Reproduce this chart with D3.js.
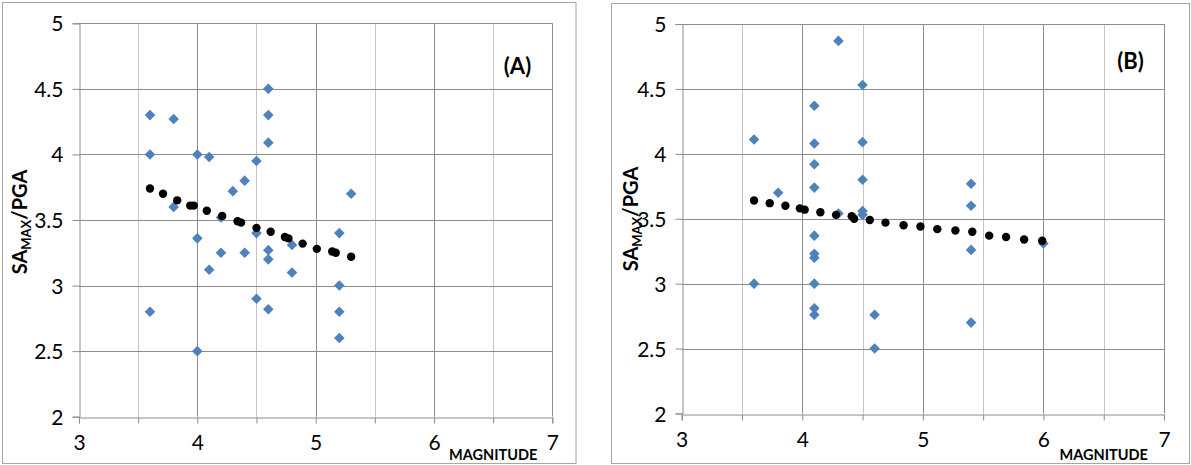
<!DOCTYPE html>
<html>
<head>
<meta charset="utf-8">
<script src="https://cdn.jsdelivr.net/npm/d3@7"></script>
<style>
  body { margin: 0; background: #fff; }
  svg { display: block; font-family: Lato, "Open Sans", sans-serif; }
</style>
</head>
<body>
<div id="container"></div>
<script>
// axis ticks (shared by both panels)
const xTicks = [3, 4, 5, 6, 7];
const yTicks = [2, 2.5, 3, 3.5, 4, 4.5, 5];

// panel A: observed points
const aMag   = [3.6, 3.6, 3.6, 3.8, 3.8, 4.0, 4.0, 4.0, 4.1, 4.1, 4.2, 4.2, 4.3, 4.4, 4.4, 4.5, 4.5, 4.5, 4.6, 4.6, 4.6, 4.6, 4.6, 4.6, 4.8, 4.8, 5.2, 5.2, 5.2, 5.2, 5.3];
const aRatio = [4.3, 4.0, 2.8, 4.27, 3.6, 4.0, 3.36, 2.5, 3.98, 3.12, 3.52, 3.25, 3.72, 3.8, 3.25, 3.95, 3.4, 2.9, 4.5, 4.3, 4.09, 3.27, 3.2, 2.82, 3.31, 3.1, 3.4, 3.0, 2.8, 2.6, 3.7];
// panel A: trend
const aTrendMag   = [3.6, 3.71, 3.83, 3.94, 3.97, 4.08, 4.21, 4.34, 4.37, 4.5, 4.62, 4.74, 4.77, 4.89, 5.01, 5.14, 5.17, 5.3];
const aTrendRatio = [3.74, 3.70, 3.65, 3.61, 3.61, 3.57, 3.53, 3.49, 3.48, 3.44, 3.41, 3.37, 3.36, 3.32, 3.28, 3.26, 3.25, 3.22];

// panel B: observed points
const bMag   = [3.6, 3.6, 3.8, 4.1, 4.1, 4.1, 4.1, 4.1, 4.1, 4.1, 4.1, 4.1, 4.1, 4.3, 4.3, 4.5, 4.5, 4.5, 4.5, 4.5, 4.6, 4.6, 5.4, 5.4, 5.4, 5.4, 6.0];
const bRatio = [4.11, 3.0, 3.7, 4.37, 4.08, 3.92, 3.74, 3.37, 3.23, 3.2, 3.0, 2.81, 2.76, 4.87, 3.54, 4.53, 4.09, 3.8, 3.56, 3.53, 2.76, 2.5, 3.77, 3.6, 3.26, 2.7, 3.31];
// panel B: trend
const bTrendMag   = [3.6, 3.73, 3.86, 3.98, 4.02, 4.15, 4.28, 4.41, 4.43, 4.56, 4.69, 4.84, 4.98, 5.12, 5.27, 5.41, 5.55, 5.69, 5.84, 5.99];
const bTrendRatio = [3.64, 3.62, 3.60, 3.58, 3.57, 3.55, 3.53, 3.52, 3.50, 3.49, 3.47, 3.45, 3.44, 3.42, 3.41, 3.40, 3.37, 3.36, 3.34, 3.33];

const panels = [
  { label: "(A)", mag: aMag, ratio: aRatio, tMag: aTrendMag, tRatio: aTrendRatio,
    box: [2, 2, 575.5, 463], plot: [79, 23.3, 552.3, 416.7],
    yLabelX: 27, yLabelY: 222, tagX: 517.5, tagY: 74 },
  { label: "(B)", mag: bMag, ratio: bRatio, tMag: bTrendMag, tRatio: bTrendRatio,
    box: [611, 3, 1189, 463], plot: [681.7, 24, 1164, 413.5],
    yLabelX: 638, yLabelY: 219, tagX: 1130.5, tagY: 69 }
];

const svg = d3.select("#container").append("svg")
    .attr("width", 1191)
    .attr("height", 465);

panels.forEach(p => drawPanel(p));

function drawPanel(p) {
  const [bx0, by0, bx1, by1] = p.box;
  const [px0, py0, px1, py1] = p.plot;

  svg.append("rect")
      .attr("x", bx0 + 0.5).attr("y", by0 + 0.5)
      .attr("width", bx1 - bx0).attr("height", by1 - by0)
      .attr("fill", "#fff")
      .attr("stroke", "#a6a6a6");

  const x = d3.scaleLinear().domain([3, 7]).range([px0, px1]);
  const y = d3.scaleLinear().domain([2, 5]).range([py1, py0]);

  const g = svg.append("g");

  // vertical grid every 0.5, integers darker
  const xGrid = d3.range(3.5, 7.01, 0.5);
  g.selectAll(".vgrid").data(xGrid).enter().append("line")
      .attr("x1", d => Math.round(x(d)) + 0.5).attr("x2", d => Math.round(x(d)) + 0.5)
      .attr("y1", py0).attr("y2", py1)
      .attr("stroke", d => Number.isInteger(d) ? "#8c8c8c" : "#c4c4c4");

  // horizontal grid
  g.selectAll(".hgrid").data(yTicks.slice(1)).enter().append("line")
      .attr("x1", px0).attr("x2", px1)
      .attr("y1", d => Math.round(y(d)) + 0.5).attr("y2", d => Math.round(y(d)) + 0.5)
      .attr("stroke", "#8c8c8c");

  // axes
  const xAxis = d3.axisBottom(x).tickValues(d3.range(3, 7.01, 0.5)).tickSize(6)
      .tickFormat(d => xTicks.includes(d) ? d : "");
  const yAxis = d3.axisLeft(y).tickValues(yTicks).tickSize(7).tickFormat(d3.format("~g"));

  const gx = svg.append("g")
      .attr("transform", `translate(0,${Math.round(py1) + 0.5})`)
      .call(xAxis);
  const gy = svg.append("g")
      .attr("transform", `translate(${Math.round(px0) + 0.5},0)`)
      .call(yAxis);

  [gx, gy].forEach(a => {
    a.select(".domain").attr("stroke", "#8c8c8c");
    a.selectAll(".tick line").attr("stroke", "#8c8c8c");
    a.selectAll(".tick text")
        .attr("fill", "#000")
        .style("font-size", "21px")
        .style("font-family", "Lato, sans-serif");
  });
  gx.selectAll(".tick text").attr("dy", null).attr("y", 32);
  gy.selectAll(".tick text").attr("x", -16).attr("dy", "0.36em");

  // observed points (diamonds)
  svg.append("g").selectAll("path")
      .data(p.mag.map((m, i) => [m, p.ratio[i]]))
    .enter().append("path")
      .attr("d", d3.symbol(d3.symbolSquare, 56))
      .attr("transform", d => `translate(${x(d[0])},${y(d[1])}) rotate(45)`)
      .attr("fill", "#4f81bd");

  // trend (black dots)
  svg.append("g").selectAll("circle")
      .data(p.tMag.map((m, i) => [m, p.tRatio[i]]))
    .enter().append("circle")
      .attr("cx", d => x(d[0]))
      .attr("cy", d => y(d[1]))
      .attr("r", 4.2)
      .attr("fill", "#000");

  // panel tag
  svg.append("text")
      .attr("x", p.tagX).attr("y", p.tagY)
      .attr("text-anchor", "middle")
      .style("font-size", "22px").style("font-weight", "bold")
      .text(p.label);

  // x axis title
  svg.append("text")
      .attr("x", x(6.5)).attr("y", 460)
      .attr("text-anchor", "middle")
      .style("font-size", "14.5px").style("font-weight", "bold")
      .text("MAGNITUDE");

  // y axis title
  const yl = svg.append("text")
      .attr("transform", `translate(${p.yLabelX},${p.yLabelY}) rotate(-90)`)
      .attr("text-anchor", "middle")
      .style("font-size", "20px").style("font-weight", "bold");
  yl.append("tspan").text("SA");
  yl.append("tspan").attr("dy", 4).style("font-size", "13px").text("MAX");
  yl.append("tspan").attr("dy", -4).text("/PGA");
}
</script>
</body>
</html>
